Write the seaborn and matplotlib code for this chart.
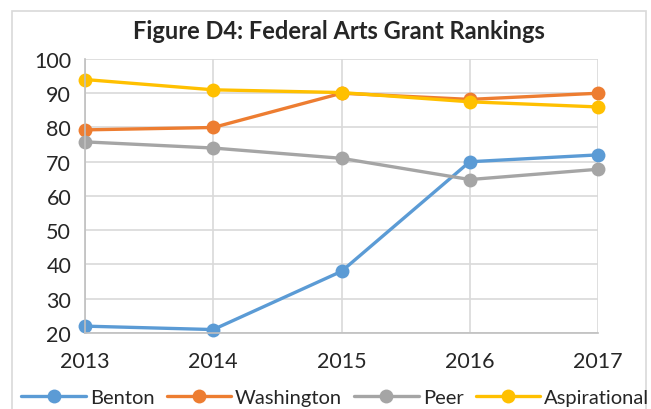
import pandas as pd
import numpy as np
import matplotlib.pyplot as plt
import seaborn as sns
from matplotlib.patches import Rectangle
from matplotlib.ticker import MultipleLocator

# Data:
years = [2013, 2014, 2015, 2016, 2017]
benton = [22, 21, 38, 70, 72]
washington = [79.3, 80, 90, 88.2, 90]
peer = [75.8, 74, 71, 64.8, 67.8]
aspirational = [94, 91, 90.2, 87.5, 86]

series = ["Benton", "Washington", "Peer", "Aspirational"]
colors = ["#5B9BD5", "#ED7D31", "#A5A5A5", "#FFC000"]

df = pd.DataFrame({
    "Year": years * 4,
    "Rank": benton + washington + peer + aspirational,
    "Series": np.repeat(series, len(years)),
})

sns.set_style("white")
plt.rcParams["font.family"] = ["Lato", "DejaVu Sans"]

fig = plt.figure(figsize=(6.51, 4.10), dpi=100)
ax = fig.add_axes([0.1306, 0.1854, 0.788, 0.6683])

# light frame around the chart
fig.patches.append(Rectangle((12 / 651, -0.05), 634 / 651, 1 - 12 / 410 + 0.05,
                             transform=fig.transFigure, fill=False,
                             edgecolor="#d9d9d9", linewidth=1.2))

sns.lineplot(data=df, x="Year", y="Rank", hue="Series", hue_order=series,
             palette=colors, marker="o", markersize=10, markeredgewidth=0,
             linewidth=2.4, ax=ax)

ax.set_xlim(2013, 2017)
ax.set_ylim(20, 100)
ax.set_xticks(years)
ax.set_xticklabels([str(y) for y in years])
ax.yaxis.set_major_locator(MultipleLocator(10))
ax.yaxis.set_minor_locator(MultipleLocator(5))
ax.grid(True, which="major", color="#d9d9d9", linewidth=1.2)
ax.set_axisbelow(True)
for s in ["top", "right"]:
    ax.spines[s].set_visible(False)
ax.spines["left"].set_color("#bfbfbf")
ax.spines["bottom"].set_color("#bfbfbf")
ax.spines["left"].set_linewidth(1.2)
ax.spines["bottom"].set_linewidth(1.2)
ax.tick_params(axis="y", which="major", length=0, labelsize=15.5, pad=10)
ax.tick_params(axis="y", which="minor", direction="in", length=5,
               color="#bfbfbf", width=1.2)
ax.tick_params(axis="x", length=0, labelsize=15.5, pad=13)
ax.set_xlabel("")
ax.set_ylabel("")
for line in ax.lines:
    line.set_clip_on(False)

fig.text(0.52, 0.922, "Figure D4: Federal Arts Grant Rankings",
         ha="center", va="center", fontsize=17, fontweight="bold")

handles, labels = ax.get_legend_handles_labels()
ax.get_legend().remove()
fig.legend(handles, labels, loc="center", bbox_to_anchor=(0.515, 0.029),
           ncol=4, frameon=False, fontsize=14.5, handlelength=3.2,
           columnspacing=0.6, handletextpad=0.2, borderaxespad=0)

fig.savefig("out.png", dpi=100)
